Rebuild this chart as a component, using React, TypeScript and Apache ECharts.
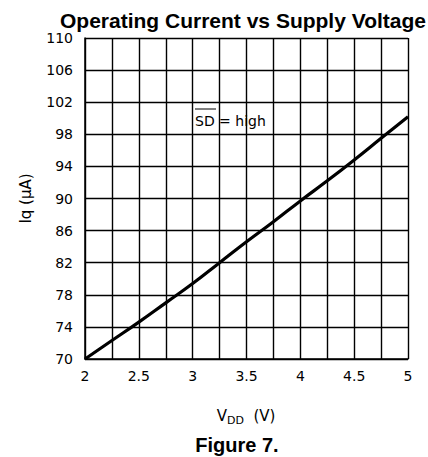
import React, { useEffect, useRef } from "react";
import * as echarts from "echarts";

const vdd = [2, 2.25, 2.5, 2.75, 3, 3.25, 3.5, 3.75, 4, 4.25, 4.5, 4.75, 5];
const iq = [70, 72.3, 74.6, 77.0, 79.4, 82.0, 84.6, 87.1, 89.7, 92.2, 94.8, 97.5, 100.2];
const xLabels = ["2", "2.5", "3", "3.5", "4", "4.5", "5"];

export default function App() {
  const ref = useRef<HTMLDivElement>(null);
  useEffect(() => {
    if (!ref.current) return;
    const chart = echarts.init(ref.current, null, { renderer: "svg" });
    const tickFont = { fontFamily: "DejaVu Sans", fontSize: 14, color: "#000" };
    chart.setOption({
      animation: false,
      backgroundColor: "#fff",
      title: {
        text: "Operating Current vs Supply Voltage",
        left: 238,
        textAlign: "center",
        top: 5,
        textStyle: { fontFamily: "Liberation Sans", fontWeight: "bold", fontSize: 21, color: "#000" },
      },
      grid: { left: 85, right: 20, top: 38, bottom: 98, containLabel: false },
      xAxis: {
        type: "value",
        min: 2,
        max: 5,
        interval: 0.25,
        axisLine: { lineStyle: { color: "#000", width: 1.5 } },
        axisTick: { show: false },
        splitLine: { show: true, lineStyle: { color: "#000", width: 1.4 } },
        axisLabel: {
          ...tickFont,
          margin: 10,
          showMinLabel: true,
          showMaxLabel: true,
          formatter: (v: number) => {
            const s = String(Math.round(v * 100) / 100);
            return xLabels.includes(s) ? s : "";
          },
        },
      },
      yAxis: {
        type: "value",
        min: 70,
        max: 110,
        interval: 4,
        name: "Iq (\u03bcA)",
        nameLocation: "middle",
        nameRotate: 90,
        nameGap: 52,
        nameTextStyle: { fontFamily: "DejaVu Sans", fontSize: 15, color: "#000" },
        axisLine: { show: true, lineStyle: { color: "#000", width: 1.5 } },
        axisTick: { show: false },
        splitLine: { show: true, lineStyle: { color: "#000", width: 1.4 } },
        axisLabel: { ...tickFont, margin: 12 },
      },
      graphic: [
        {
          type: "text",
          left: 195,
          top: 114,
          style: { text: "SD = high", fontFamily: "DejaVu Sans", fontSize: 14, fill: "#000" },
        },
        {
          type: "line",
          shape: { x1: 195, y1: 109, x2: 216, y2: 109 },
          style: { stroke: "#000", lineWidth: 1 },
        },
        {
          type: "text",
          x: 246,
          y: 405,
          style: {
            text: "{m|V}{s|DD}{m|  (V)}",
            align: "center",
            rich: {
              m: { fontFamily: "DejaVu Sans", fontSize: 15, color: "#000" },
              s: { fontFamily: "DejaVu Sans", fontSize: 11, color: "#000", padding: [10, 0, 0, 0] },
            },
          },
        },
        {
          type: "text",
          x: 237,
          y: 435,
          style: {
            text: "Figure 7.",
            align: "center",
            fontFamily: "Liberation Sans",
            fontWeight: "bold",
            fontSize: 20,
            fill: "#000",
          },
        },
      ],
      series: [
        {
          type: "line",
          data: vdd.map((x, i) => [x, iq[i]]),
          showSymbol: false,
          smooth: true,
          lineStyle: { color: "#000", width: 3.2 },
        },
      ],
    });
    return () => chart.dispose();
  }, []);
  return <div ref={ref} style={{ width: 428, height: 457, position: "absolute", left: 0, top: 0 }} />;
}
